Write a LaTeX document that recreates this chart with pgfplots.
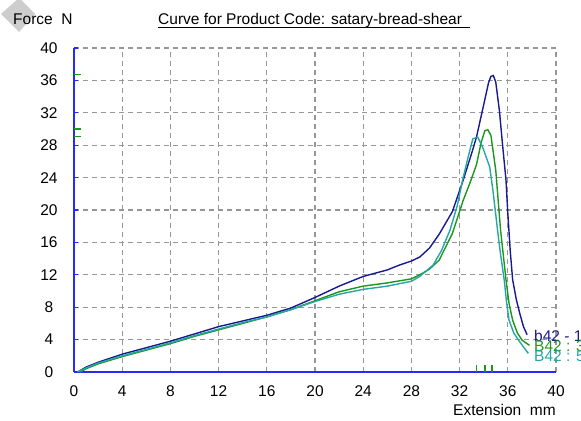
\documentclass[border=0pt]{standalone}
\usepackage{fontspec}
\setmainfont{Liberation Sans}
\usepackage{pgfplots}
\pgfplotsset{compat=1.18}
\definecolor{navy}{RGB}{25,25,145}
\definecolor{grn}{RGB}{30,150,30}
\definecolor{tealc}{RGB}{40,165,165}
\definecolor{axblue}{RGB}{40,40,255}
\definecolor{gridgray}{RGB}{150,150,150}
\definecolor{diam}{RGB}{205,205,205}
\begin{document}
\begin{tikzpicture}[font=\fontsize{15.5bp}{18bp}\selectfont]
\path[use as bounding box] (0bp,0bp) rectangle (581bp,421bp);
\fill[diam] (1bp,407bp) -- (19bp,423bp) -- (35bp,407bp) -- (19bp,389bp) -- cycle;
\begin{axis}[
  at={(74bp,49bp)}, anchor=south west,
  scale only axis, width=482bp, height=324bp,
  xmin=0, xmax=40, ymin=0, ymax=40,
  xtick={0,4,...,40}, ytick={0,4,...,40},
  axis x line=bottom, axis y line=left,
  axis line style={axblue, line width=1.5bp, -},
  grid=major,
  grid style={gridgray, line width=1.2bp, dash pattern=on 5bp off 4bp},
  xtick style={draw=none},
  ytick style={axblue, line width=1.3bp},
  major tick length=4bp, tick align=inside,
  /pgf/number format/assume math mode=true,
  tick label style={font=\fontsize{15.5bp}{18bp}\selectfont},
  yticklabel style={anchor=center, xshift=-25bp},
  xticklabel style={anchor=center, yshift=-19bp},
  clip=false,
]
\addplot[navy, line width=1.4bp] coordinates {
(0.3,0) (1,0.6) (2,1.2) (4,2.2) (6,3.0) (8,3.8) (10,4.7) (12,5.6) (14,6.3) (16,7.0) (18,7.9) (20,9.2) (22,10.6) (24,11.8) (26,12.6) (27,13.2) (28,13.7) (28.7,14.2) (29.5,15.3) (30.3,17.0) (31.4,19.8) (32.3,23.7) (33.0,27.0) (33.4,29.0) (34.0,33.0) (34.4,35.7) (34.6,36.5) (34.8,36.6) (35.0,35.8) (35.3,32.3) (35.6,27.5) (35.85,23.7) (36.0,19.6) (36.2,15.0) (36.4,11.4) (36.7,9.0) (37.0,7.2) (37.3,5.6) (37.6,4.6)
};
\addplot[grn, line width=1.4bp] coordinates {
(0.5,0) (1,0.4) (2,1.0) (4,1.9) (6,2.7) (8,3.5) (10,4.4) (12,5.2) (14,6.0) (16,6.8) (18,7.7) (20,8.8) (22,9.9) (24,10.6) (26,11.0) (28,11.5) (28.7,12.0) (29.5,12.7) (30.3,13.8) (31.4,17.1) (32.3,21.2) (32.95,23.7) (33.4,25.6) (33.8,28.4) (34.1,29.8) (34.35,29.9) (34.6,29.2) (35.0,24.9) (35.4,17.5) (35.85,11.4) (36.1,8.5) (36.4,6.4) (36.8,4.8) (37.2,3.9) (37.8,3.3)
};
\addplot[tealc, line width=1.4bp] coordinates {
(0.3,0) (1,0.5) (2,1.1) (4,2.0) (6,2.8) (8,3.6) (10,4.5) (12,5.3) (14,6.1) (16,6.8) (18,7.7) (20,8.7) (22,9.6) (24,10.2) (26,10.6) (27,10.9) (28,11.2) (28.7,11.8) (29.8,13.2) (30.5,15.0) (31.2,17.5) (31.8,20.5) (32.25,23.7) (32.7,26.5) (33.1,28.8) (33.5,29.0) (33.9,27.8) (34.5,25.3) (34.8,22.0) (35.15,17.5) (35.4,14.5) (35.7,11.4) (35.9,8.6) (36.1,6.4) (36.5,4.8) (37.0,3.7) (37.4,2.9) (37.7,2.3)
};
\addplot[grn, line width=1.3bp] coordinates {(33.4,0) (33.4,0.9)};
\addplot[grn, line width=1.3bp] coordinates {(34.1,0) (34.1,0.9)};
\addplot[grn, line width=1.3bp] coordinates {(34.7,0) (34.7,0.9)};
\addplot[grn, line width=1.3bp] coordinates {(0,36.7) (0.6,36.7)};
\addplot[grn, line width=1.3bp] coordinates {(0,30.0) (0.6,30.0)};
\addplot[grn, line width=1.3bp] coordinates {(0,29.05) (0.6,29.05)};
\end{axis}
\node[anchor=base west, inner sep=0pt] at (13bp,396bp) {Force\ \ N};
\node[anchor=base west, inner sep=0pt] at (158bp,396bp) {Curve for Product Code: satary-bread-shear};
\draw[black, line width=1bp] (158bp,393.5bp) -- (470bp,393.5bp);
\node[anchor=base west, inner sep=0pt] at (453bp,6bp) {Extension\ \ mm};
\node[anchor=base west, inner sep=0pt, text=navy] at (534bp,79bp) {b42 - 1};
\node[anchor=base west, inner sep=0pt, text=grn] at (534bp,69bp) {B42 : 3};
\node[anchor=base west, inner sep=0pt, text=tealc] at (534bp,59bp) {B42 : 5};
\end{tikzpicture}
\end{document}
